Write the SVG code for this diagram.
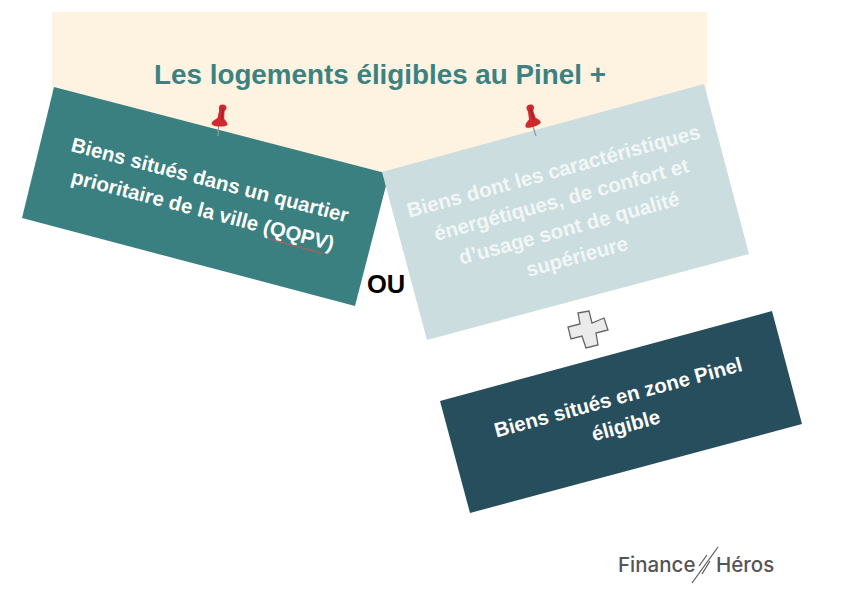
<svg xmlns="http://www.w3.org/2000/svg" width="850" height="607" viewBox="0 0 850 607">
<defs>
<style>
text{font-family:"Liberation Sans",Arial,sans-serif;font-weight:700}
.w{fill:#fff;font-size:20.4px}
.l{fill:#f1f6f6;font-size:20.5px;text-anchor:middle}
.logo{fill:#555;font-size:20.5px;font-family:Inter,sans-serif;font-weight:500}
</style>
<g id="pin">
<path d="M0 0L-1 -11" stroke="#8a9cab" stroke-width="1.300" fill="none"/>
<path d="M-3.500 -29C-3.500 -32.500 3.500 -33 4 -29.500C4.300 -27 2.800 -26.500 2.600 -25L3.400 -18C5.700 -16 8 -14 7.500 -12C4.500 -9.500 -4.500 -8.500 -8 -10.500C-9 -13 -6.300 -15.500 -3.400 -17.500L-2.800 -25C-3.200 -26.500 -3.500 -27 -3.500 -29Z" fill="#cf2a30"/>
<path d="M0.500 -28L1 -16" stroke="#a81f26" stroke-width="1.500" fill="none"/>
</g>
</defs>
<rect width="850" height="607" fill="#fff"/>
<g id="header">
<polygon points="52,12 707,12 707,100 382,180 52,100" fill="#fef3e1"/>
<text x="380" y="84" text-anchor="middle" font-size="27.800" fill="#3b8282">Les logements éligibles au Pinel +</text>
</g>
<g id="qqpv">
<polygon points="54,87 389,174 355,306 22,218" fill="#3b8080"/>
<g transform="translate(70,151) rotate(14.500)">
<text class="w" x="0" y="0">Biens situés dans un quartier</text>
<text class="w" x="8" y="31">prioritaire de la ville (QQPV)</text>
</g>
<path d="M268 238l3 2 2.500 -.5 3 2 2.500 -.5 3 2 2.500 -.5 3 2 2.500 -.5 3 2 2.500 -.5 3 2 2.500 -.5 3 2 2.500 -.5 3 2 2.500 -.5 3 2 2.500 -.5 3 2 2.500 -.5" fill="none" stroke="#e0504c" stroke-width="1"/>
<use href="#pin" transform="translate(218,136) rotate(9)"/>
</g>
<g id="qualite">
<polygon points="382,172 704,84 749,254 427,340" fill="#cbdddf"/>
<g transform="translate(562,202) rotate(-15.300)">
<text class="l" x="0" y="-25">Biens dont les caractéristiques</text>
<text class="l" x="0" y="4.500">énergétiques, de confort et</text>
<text class="l" x="0" y="34">d’usage sont de qualité</text>
<text class="l" x="0" y="63.500">supérieure</text>
</g>
<use href="#pin" transform="translate(536,136) rotate(-12)"/>
</g>
<g id="ou"><text x="386" y="293" text-anchor="middle" font-size="25.500" fill="#000">OU</text></g>
<g id="plus">
<polygon points="578,313 589,311 592,323 604,318 608,330 596,333 598,345 586,348 582,336 571,339 568,327 580,324" fill="#ebebeb" stroke="#666" stroke-width="1.300"/>
</g>
<g id="zone">
<polygon points="440,401 772,311 802,424 470,513" fill="#274e5c"/>
<g transform="translate(620,404) rotate(-15.200)">
<text class="w" x="0" y="0" text-anchor="middle">Biens situés en zone Pinel</text>
<text class="w" x="0" y="29" text-anchor="middle">éligible</text>
</g>
</g>
<g id="logo">
<text class="logo" x="618" y="572">Finance</text>
<text class="logo" x="716" y="572">Héros</text>
<path d="M718 547L692 583M707 555L699 566M710 561L702 574" stroke="#555" stroke-width="1.200" fill="none"/>
</g>
<g id="connectors"></g>
</svg>
